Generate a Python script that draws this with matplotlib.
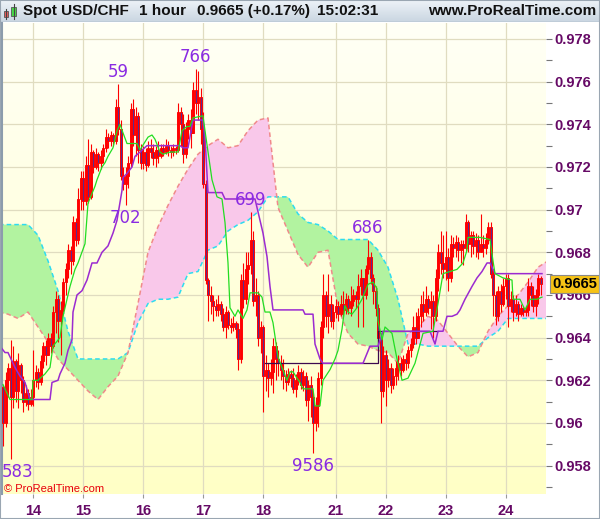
import numpy as np
import matplotlib
matplotlib.use("Agg")
import matplotlib.pyplot as plt
from matplotlib.patches import Rectangle
from matplotlib.colors import LinearSegmentedColormap

plt.rcParams['font.family'] = ['Liberation Sans', 'DejaVu Sans']

# hourly candles, prices in pips (9665 -> 0.9665), open = previous close
first_open = 9617
close = [9600, 9620, 9626, 9612, 9629, 9615, 9627, 9620, 9610, 9614,
         9609, 9612, 9620, 9624, 9619, 9629, 9636, 9632, 9640, 9636,
         9652, 9658, 9648, 9653, 9666, 9672, 9681, 9676, 9694, 9686,
         9705, 9715, 9704, 9721, 9706, 9727, 9720, 9726, 9722, 9725,
         9729, 9734, 9732, 9735, 9732, 9748, 9738, 9716, 9712, 9716,
         9722, 9747, 9735, 9744, 9728, 9722, 9727, 9721, 9729, 9727,
         9724, 9728, 9725, 9729, 9727, 9730, 9728, 9727, 9729, 9728,
         9746, 9740, 9726, 9738, 9742, 9736, 9756, 9750, 9753, 9738,
         9712, 9667, 9660, 9657, 9655, 9653, 9656, 9651, 9645, 9652,
         9646, 9645, 9647, 9644, 9630, 9667, 9658, 9672, 9674, 9686,
         9657, 9660, 9640, 9645, 9622, 9625, 9621, 9624, 9636, 9630,
         9628, 9625, 9622, 9619, 9623, 9621, 9616, 9620, 9624, 9618,
         9622, 9611, 9618, 9612, 9600, 9608, 9621, 9645, 9660, 9650,
         9656, 9648, 9652, 9655, 9651, 9656, 9653, 9658, 9654, 9657,
         9660, 9658, 9664, 9668, 9660, 9672, 9678, 9668, 9662, 9654,
         9640, 9615, 9632, 9620, 9626, 9618, 9622, 9626, 9628, 9625,
         9630, 9628, 9634, 9637, 9645, 9640, 9650, 9656, 9652, 9658,
         9654, 9657, 9650, 9668, 9680, 9675, 9672, 9678, 9668, 9684,
         9682, 9685, 9681, 9684, 9682, 9694, 9684, 9688, 9683, 9686,
         9680, 9684, 9682, 9686, 9692, 9670, 9660, 9650, 9662, 9656,
         9664, 9668, 9655, 9658, 9652, 9656, 9651, 9654, 9652, 9653,
         9664, 9660, 9655, 9660, 9668, 9665]
high = [9618, 9624, 9628, 9639, 9636, 9630, 9633, 9628, 9622, 9618,
        9616, 9616, 9634, 9627, 9626, 9632, 9638, 9639, 9642, 9642,
        9655, 9662, 9660, 9657, 9668, 9675, 9684, 9683, 9697, 9696,
        9710, 9718, 9718, 9725, 9733, 9731, 9728, 9729, 9727, 9728,
        9731, 9738, 9736, 9737, 9736, 9752, 9759, 9742, 9720, 9720,
        9725, 9750, 9752, 9748, 9746, 9731, 9730, 9729, 9732, 9733,
        9731, 9730, 9732, 9731, 9731, 9733, 9732, 9730, 9731, 9730,
        9750, 9748, 9745, 9741, 9745, 9747, 9760, 9766, 9765, 9757,
        9746, 9714, 9668, 9664, 9660, 9658, 9660, 9657, 9654, 9655,
        9653, 9649, 9650, 9648, 9647, 9670, 9675, 9680, 9680, 9699,
        9690, 9668, 9662, 9648, 9646, 9632, 9628, 9630, 9640, 9638,
        9634, 9632, 9630, 9625, 9626, 9625, 9626, 9623, 9627, 9626,
        9625, 9624, 9620, 9622, 9614, 9612, 9624, 9648, 9670, 9662,
        9670, 9660, 9656, 9658, 9657, 9660, 9662, 9661, 9660, 9664,
        9663, 9662, 9670, 9672, 9668, 9674, 9686, 9680, 9670, 9664,
        9656, 9642, 9636, 9634, 9630, 9628, 9626, 9629, 9632, 9631,
        9632, 9633, 9636, 9640, 9650, 9652, 9654, 9660, 9662, 9664,
        9660, 9662, 9660, 9672, 9684, 9690, 9688, 9690, 9682, 9688,
        9687, 9688, 9687, 9686, 9686, 9698, 9695, 9690, 9690, 9689,
        9688, 9698, 9688, 9689, 9694, 9694, 9672, 9662, 9664, 9665,
        9668, 9670, 9670, 9662, 9660, 9660, 9657, 9656, 9655, 9655,
        9668, 9666, 9664, 9663, 9670, 9669]
low = [9589, 9598, 9612, 9583, 9607, 9610, 9607, 9614, 9605, 9608,
       9606, 9608, 9608, 9617, 9616, 9618, 9626, 9627, 9632, 9633,
       9635, 9642, 9638, 9632, 9652, 9660, 9668, 9670, 9674, 9683,
       9684, 9700, 9700, 9702, 9703, 9705, 9717, 9719, 9718, 9719,
       9722, 9727, 9729, 9730, 9730, 9731, 9735, 9714, 9709, 9702,
       9710, 9720, 9730, 9725, 9722, 9719, 9719, 9718, 9720, 9724,
       9721, 9720, 9722, 9724, 9725, 9726, 9725, 9724, 9725, 9726,
       9727, 9730, 9722, 9724, 9733, 9729, 9736, 9745, 9742, 9731,
       9710, 9665, 9648, 9651, 9648, 9650, 9650, 9648, 9643, 9640,
       9644, 9642, 9643, 9640, 9625, 9628, 9654, 9656, 9665, 9670,
       9655, 9650, 9636, 9633, 9605, 9615, 9612, 9618, 9614, 9620,
       9622, 9620, 9616, 9615, 9618, 9617, 9614, 9612, 9618, 9616,
       9615, 9608, 9601, 9603, 9586, 9596, 9598, 9618, 9640, 9645,
       9642, 9645, 9644, 9649, 9648, 9650, 9650, 9651, 9651, 9650,
       9655, 9654, 9645, 9660, 9645, 9658, 9670, 9665, 9656, 9650,
       9636, 9600, 9612, 9608, 9617, 9614, 9616, 9618, 9620, 9622,
       9624, 9625, 9626, 9631, 9635, 9637, 9640, 9645, 9648, 9650,
       9651, 9644, 9640, 9648, 9662, 9670, 9668, 9667, 9662, 9666,
       9678, 9678, 9676, 9675, 9674, 9680, 9680, 9678, 9679, 9678,
       9677, 9680, 9678, 9679, 9684, 9668, 9650, 9646, 9648, 9652,
       9655, 9658, 9645, 9652, 9648, 9650, 9648, 9650, 9650, 9650,
       9650, 9655, 9652, 9650, 9656, 9660]

day_pos = [12, 32, 56, 80, 104, 133, 153, 177, 201]
day_lab = ["14", "15", "16", "17", "18", "21", "22", "23", "24"]

# conversion line (green)
tenkan_x = [0, 2.8, 11.6, 12, 14, 16.8, 18.8, 20, 22.8, 24,
            26.8, 28.8, 30, 32.8, 34, 36.8, 37.6, 39.6, 40.8, 42,
            44, 45.6, 46.8, 48, 49.6, 53.6, 54.8, 58, 59.6, 60.8,
            62.8, 64, 66.8, 70, 71.6, 73.6, 74.8, 76, 80, 80.8,
            83.6, 85.6, 87.6, 88.8, 90, 90.8, 92.8, 94, 96, 97.6,
            98.8, 102, 103.6, 104.8, 106.8, 108, 110, 111.6, 113.6, 114.8,
            116, 117.6, 118.8, 120, 124, 124.8, 126.8, 128, 130.8, 132.8,
            134, 135.6, 136.8, 138, 139.6, 141.6, 143.6, 146, 148, 149.6,
            150, 151.6, 152.8, 155.6, 157.6, 159.6, 162, 164.8, 168, 172,
            174, 176, 181.6, 184, 185.6, 186, 190.8, 194.8, 196, 196.8,
            200, 203.6, 204, 206.8, 208.8, 210.8, 213.6, 215.6]
tenkan_y = [9618, 9611, 9611, 9620, 9620, 9623, 9626, 9636, 9640, 9650,
            9664, 9672, 9675, 9684, 9703, 9711, 9714, 9720, 9722, 9725,
            9729, 9737, 9740, 9736, 9731, 9731, 9728, 9734, 9735, 9733,
            9727, 9726, 9727, 9727, 9737, 9739, 9739, 9743, 9744, 9737,
            9714, 9706, 9705, 9694, 9675, 9654, 9650, 9653, 9649, 9653,
            9661, 9661, 9659, 9652, 9652, 9647, 9631, 9626, 9620, 9624,
            9624, 9621, 9619, 9616, 9616, 9608, 9608, 9620, 9625, 9630,
            9634, 9644, 9655, 9652, 9651, 9654, 9658, 9665, 9666, 9663,
            9648, 9639, 9645, 9642, 9630, 9620, 9621, 9628, 9642, 9643,
            9656, 9670, 9672, 9675, 9681, 9687, 9687, 9686, 9676, 9670,
            9668, 9667, 9658, 9658, 9653, 9658, 9658, 9659]

# base line (purple)
kijun_x = [-1.2, 0.8, 2, 4.8, 6.8, 8.8, 10.8, 18.8, 19.6, 22,
           22.8, 24.8, 26, 27.6, 28, 29.6, 31.6, 33.6, 35.6, 37.6,
           39.6, 42, 44, 45.6, 47.6, 48, 49.6, 51.6, 52.8, 54.8,
           57.6, 70.8, 72, 74, 76, 80, 80.8, 82, 87.6, 88.8,
           100.8, 102, 104, 105.6, 106.8, 108, 120, 120.8, 124, 124.8,
           126.8, 128, 144, 146.8, 150, 152, 170.8, 172.8, 174, 176,
           177.6, 179.6, 181.6, 182.8, 184.8, 187.6, 189.6, 191.6, 193.6, 194.8,
           196.8, 215.6]
kijun_y = [9636, 9633, 9633, 9626, 9622, 9619, 9611, 9611, 9619, 9620,
           9623, 9628, 9634, 9639, 9652, 9660, 9662, 9667, 9675, 9675,
           9680, 9683, 9689, 9695, 9709, 9715, 9717, 9720, 9725, 9727,
           9730, 9730, 9729, 9729, 9742, 9742, 9734, 9708, 9708, 9705,
           9705, 9699, 9689, 9678, 9664, 9653, 9653, 9651, 9651, 9637,
           9630, 9628, 9628, 9636, 9636, 9643, 9643, 9637, 9643, 9643,
           9650, 9650, 9651, 9653, 9658, 9664, 9668, 9671, 9675, 9675,
           9670, 9670]

dark_x = [104.8, 150, 150, 174]
dark_y = [9628, 9628, 9643, 9643]

# cloud spans, sampled every 4 bars
cloud_x = list(range(-2, 219, 4))
span_a = [9693, 9693, 9693, 9693, 9688, 9676, 9662, 9643, 9630, 9630,
          9630, 9630, 9630, 9633, 9647, 9656, 9658, 9658, 9659, 9670,
          9671, 9681, 9683, 9690, 9693, 9695, 9699, 9706, 9706, 9706,
          9698, 9694, 9693, 9690, 9686, 9686, 9686, 9686, 9681, 9673,
          9658, 9637, 9637, 9636, 9636, 9636, 9636, 9636, 9636, 9640,
          9643, 9649, 9649, 9649, 9649, 9649]
span_b = [9652, 9651, 9649, 9652, 9645, 9638, 9630, 9625, 9620, 9615,
          9611, 9617, 9622, 9633, 9656, 9680, 9692, 9702, 9711, 9719,
          9726, 9730, 9733, 9729, 9730, 9737, 9742, 9743, 9701, 9690,
          9679, 9673, 9680, 9681, 9654, 9642, 9637, 9636, 9634, 9633,
          9628, 9642, 9645, 9650, 9648, 9642, 9636, 9631, 9633, 9643,
          9650, 9655, 9660, 9666, 9673, 9676]

# swing labels
swing_bar = [46, 77, 49, 99, 146, 3, 124]
swing_txt = ["59", "766", "702", "699", "686", "583", "9586"]
swing_side = ["h", "h", "l", "h", "h", "l", "l"]

P = 1e-4
c = np.array(close) * P
h = np.array(high) * P
l = np.array(low) * P
o = np.r_[first_open * P, c[:-1]]
x = np.arange(len(c))

W, H = 600, 519
fig = plt.figure(figsize=(W / 100, H / 100), dpi=100)
fig.patch.set_facecolor("white")

def fx(px):
    return px / W

def fy(py):
    return 1 - py / H

ax = fig.add_axes([fx(2), fy(494), fx(544), 471 / H])
x0, x1 = -0.4, 217.2
y0, y1 = 0.95667, 0.97875

grad = np.linspace(0, 1, 256).reshape(-1, 1)
bg = LinearSegmentedColormap.from_list("bg", ["#ffffc6", "#fffff6"])
ax.imshow(grad, aspect="auto", cmap=bg, extent=[x0, x1, y0, y1],
          origin="lower", zorder=0)

ax.set_axisbelow(True)
ax.grid(True, color="#e0dcc0", lw=0.9)

# cloud
ca = np.array(span_a) * P
cb = np.array(span_b) * P
ax.fill_between(cloud_x, ca, cb, where=ca >= cb, interpolate=True,
                color="#b2f3a0", lw=0, zorder=1)
ax.fill_between(cloud_x, ca, cb, where=ca < cb, interpolate=True,
                color="#f9c8ea", lw=0, zorder=1)
ax.plot(cloud_x, ca, color="#2edcf0", lw=1.1, ls=(0, (3, 2)), zorder=2)
ax.plot(cloud_x, cb, color="#f08a8a", lw=1.1, ls=(0, (3, 2)), zorder=2)

# candles
up = c >= o
ax.vlines(x, l, h, color="#ff0000", lw=0.8, zorder=3)
ax.bar(x[up], (c - o)[up], bottom=o[up], width=0.8, facecolor="none",
       edgecolor="#ff0000", lw=0.7, zorder=4)
ax.bar(x[~up], (o - c)[~up], bottom=c[~up], width=0.8, facecolor="#5b2a8c",
       edgecolor="#ff0000", lw=0.7, zorder=4)

# lines
ax.plot(dark_x, np.array(dark_y) * P, color="#3d0a4f", lw=0.9, zorder=5)
ax.plot(kijun_x, np.array(kijun_y) * P, color="#9b2bd0", lw=1.1, zorder=5)
ax.plot(tenkan_x, np.array(tenkan_y) * P, color="#22dd22", lw=0.9, zorder=6)

for b, t, s in zip(swing_bar, swing_txt, swing_side):
    # labels next to the left edge are left aligned so they stay inside
    ha, dx = ("left", -9) if b < 10 else ("center", 0)
    if s == "h":
        ax.annotate(t, (b, h[b]), xytext=(dx, 7), textcoords="offset pixels",
                    ha=ha, va="baseline", color="#8a2be2",
                    fontsize=12, family="DejaVu Sans", zorder=7)
    else:
        ax.annotate(t, (b, l[b]), xytext=(dx, -4), textcoords="offset pixels",
                    ha=ha, va="top", color="#8a2be2",
                    fontsize=12, family="DejaVu Sans", zorder=7)

# axes
ax.set_xlim(x0, x1)
ax.set_ylim(y0, y1)
ax.yaxis.tick_right()
yt = [0.958 + 0.002 * k for k in range(11)]
ax.set_yticks(yt)
ax.set_yticklabels([f"{v:.3f}".rstrip("0") for v in yt],
                   fontweight="bold", color="#660a66", fontsize=10.5)
ax.set_yticks([0.957 + 0.002 * k for k in range(11)], minor=True)
ax.tick_params(axis="y", which="both", length=4, width=0.8, color="#777777", pad=2)
ax.set_xticks(day_pos)
ax.set_xticklabels(day_lab, fontweight="bold", color="#660a66", fontsize=10.5)
ax.tick_params(axis="x", length=3, width=0.8, color="#999999", pad=4)
for sp in ["top", "right", "bottom"]:
    ax.spines[sp].set_visible(False)
ax.spines["left"].set_color("#8c9cac")
ax.spines["left"].set_linewidth(1.5)

# last price tag
ax.annotate(f"{c[-1]:.4f}", (1, c[-1]), xycoords=("axes fraction", "data"),
            xytext=(6, 0), textcoords="offset pixels", ha="left", va="center",
            fontsize=10.5, fontweight="bold", color="black", zorder=10,
            annotation_clip=False,
            bbox=dict(boxstyle="square,pad=0.15", fc="#f6c316", ec="#8a8a8a", lw=0.8))

fig.text(fx(4), fy(489), "\u00a9 ProRealTime.com", color="#e8000b",
         fontsize=8, va="center", ha="left")

# header bar
hax = fig.add_axes([0, fy(22), 1, 22 / H])
hbg = LinearSegmentedColormap.from_list("hb", ["#c9d5e1", "#eef3f8"])
hax.imshow(grad, aspect="auto", cmap=hbg, extent=[0, 1, 0, 1], origin="lower")
hax.set_xlim(0, 1)
hax.set_ylim(0, 1)
hax.axis("off")
hax.axhline(0, color="#9aa8b6", lw=1)

hdr = [("Spot USD/CHF", 23), ("1 hour", 139), ("0.9665 (+0.17%)", 197), ("15:02:31", 317)]
for t, px in hdr:
    fig.text(fx(px), fy(11), t, fontsize=11, fontweight="bold", color="#111111",
             va="center", ha="left")
fig.text(fx(596), fy(11), "www.ProRealTime.com", fontsize=11, fontweight="bold",
         color="#111111", va="center", ha="right")

# small candle icon
fig.add_artist(plt.Line2D([fx(5.5), fx(5.5)], [fy(9), fy(19)], color="#444444", lw=0.8))
fig.add_artist(Rectangle((fx(3.5), fy(17)), fx(4), 6 / H, fc="#e85a5a", ec="#555555", lw=0.6))
fig.add_artist(plt.Line2D([fx(13.5), fx(13.5)], [fy(4), fy(19)], color="#444444", lw=0.8))
fig.add_artist(Rectangle((fx(11), fy(16)), fx(5), 9 / H, fc="#45d845", ec="#555555", lw=0.6))

# frame
fig.add_artist(Rectangle((0, 0), 1, 1, fill=False, ec="#9aa6b2", lw=1.5,
                         transform=fig.transFigure))

fig.savefig("out.png", dpi=100)
